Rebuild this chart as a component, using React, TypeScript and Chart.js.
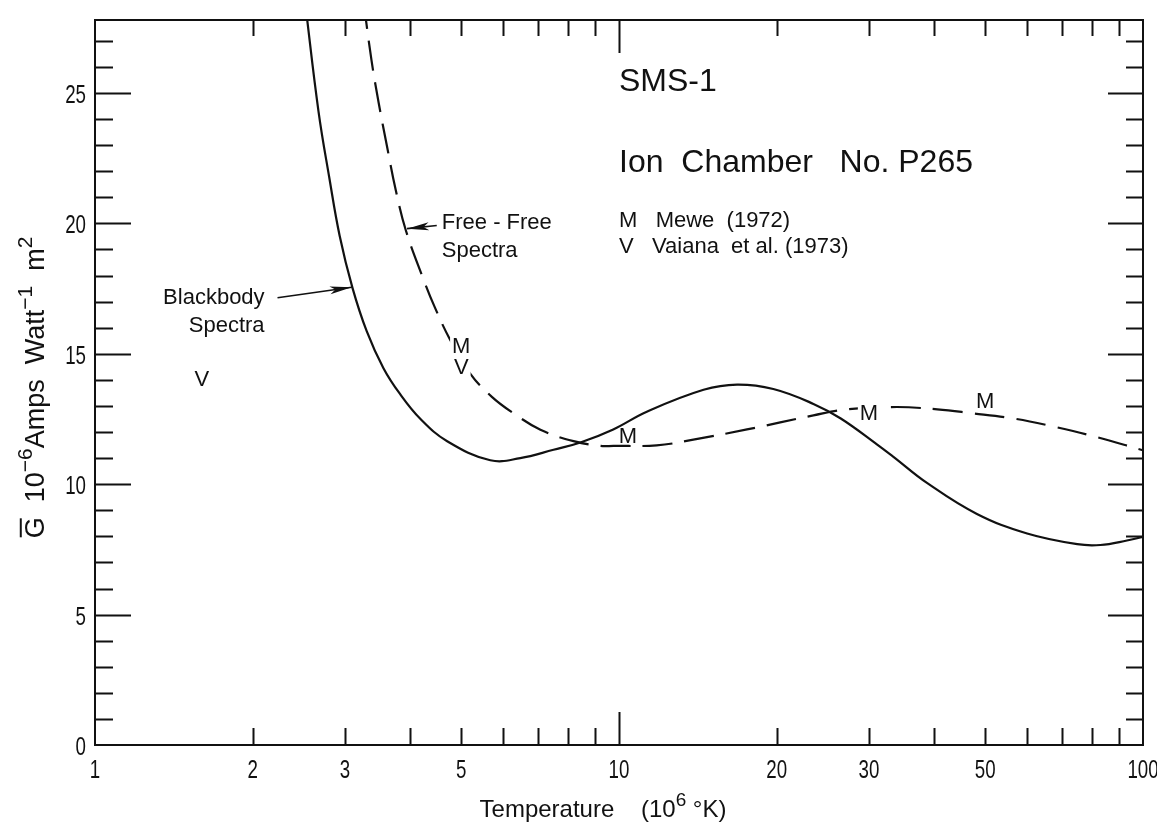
import React, { useEffect, useRef } from "react";
import { Chart, registerables } from "chart.js";

Chart.register(...registerables);

// ---- data ----
const blackbodyT = [2.52, 2.67, 2.8, 2.93, 3.1, 3.3, 3.55, 3.82, 4.18, 4.7, 5.68, 6.48, 7.5, 8.44, 9.75, 11.3, 14.5, 16.8, 19.7, 23.5, 26.5, 31.1, 33.4, 38.7, 48.2, 60.1, 74.9, 82.9, 93.2, 100];
const blackbodyG = [28.4, 24.3, 21.75, 19.53, 17.53, 15.87, 14.46, 13.46, 12.5, 11.65, 10.92, 11.0, 11.32, 11.6, 12.1, 12.78, 13.62, 13.82, 13.65, 13.08, 12.52, 11.52, 11.05, 10.05, 8.86, 8.11, 7.7, 7.67, 7.84, 7.98];

const freeFreeT = [3.25, 3.37, 3.48, 3.61, 3.75, 3.92, 4.22, 4.45, 4.75, 5.2, 5.72, 6.29, 7.08, 8.19, 9.21, 9.76, 11.8, 13.7, 17.55, 23.5, 27.2, 33.9, 40.5, 46.8, 56.6, 67.5, 80.5, 100];
const freeFreeG = [28.6, 26.26, 24.6, 22.93, 21.27, 19.73, 17.94, 16.79, 15.58, 14.24, 13.35, 12.72, 12.09, 11.65, 11.47, 11.47, 11.49, 11.69, 12.1, 12.64, 12.87, 12.96, 12.87, 12.73, 12.52, 12.21, 11.84, 11.3];

const xLabelValues = [1, 2, 3, 5, 10, 20, 30, 50, 100];
const xTickValues = [2, 3, 4, 5, 6, 7, 8, 9, 10, 20, 30, 40, 50, 60, 70, 80, 90];
const xMajorTickValues = [10];
const yLabelValues = [0, 5, 10, 15, 20, 25];
const yTickValues = [1, 2, 3, 4, 5, 6, 7, 8, 9, 10, 11, 12, 13, 14, 15, 16, 17, 18, 19, 20, 21, 22, 23, 24, 25, 26, 27];
const yMajorTickValues = [5, 10, 15, 20, 25];

// point labels (M = Mewe, V = Vaiana et al.)
const markerText = ["M", "V", "V", "M", "M", "M"];
const markerT = [5, 5, 1.6, 10.4, 30, 50];
const markerG = [15.25, 14.45, 14.0, 11.8, 12.7, 13.15];
const markerMask = [true, true, false, false, true, true];

// notes in the upper right
const noteText = ["SMS-1", "Ion  Chamber   No. P265", "M   Mewe  (1972)", "V   Vaiana  et al. (1973)"];
const noteT = [10, 10, 10, 10];
const noteG = [25.4, 22.3, 20.1, 19.1];
const noteSize = [32, 32, 22, 22];

// curve captions with arrows
const captionLine1 = ["Blackbody", "Free - Free"];
const captionLine2 = ["Spectra", "Spectra"];
const captionT = [2.107, 4.59];
const captionG = [17.15, 20.03];
const captionAlign = ["right", "left"];
const arrowFromT = [2.23, 4.49];
const arrowFromG = [17.15, 19.92];
const arrowToT = [3.09, 3.94];
const arrowToG = [17.55, 19.8];

const INK = "#111";
const TEXT_FONT = "'Liberation Sans', Arial, sans-serif";

function drawPieces(ctx: CanvasRenderingContext2D, pieces: any[], x0: number, size: number, supSize: number) {
  let x = x0;
  for (const p of pieces) {
    if (p.sup) {
      ctx.font = `${supSize}px ${TEXT_FONT}`;
      ctx.fillText(p.t, x, -size * 0.45);
    } else {
      ctx.font = `${size}px ${TEXT_FONT}`;
      ctx.fillText(p.t, x, 0);
    }
    const w = ctx.measureText(p.t).width;
    if (p.bar) {
      ctx.save();
      ctx.lineWidth = 2;
      ctx.beginPath();
      ctx.moveTo(x + 1, -size * 0.86);
      ctx.lineTo(x + w - 1, -size * 0.86);
      ctx.stroke();
      ctx.restore();
    }
    x += w;
  }
  return x - x0;
}

function measurePieces(ctx: CanvasRenderingContext2D, pieces: any[], size: number, supSize: number) {
  let w = 0;
  for (const p of pieces) {
    ctx.font = `${p.sup ? supSize : size}px ${TEXT_FONT}`;
    w += ctx.measureText(p.t).width;
  }
  return w;
}

const decorPlugin = {
  id: "decor",
  afterDatasetsDraw(chart: any) {
    const { ctx, chartArea: a, scales } = chart;
    const xs = scales.x;
    const ys = scales.y;
    ctx.save();
    ctx.strokeStyle = INK;
    ctx.fillStyle = INK;

    // frame
    ctx.lineWidth = 2;
    ctx.beginPath();
    ctx.rect(a.left, a.top, a.right - a.left, a.bottom - a.top);
    ctx.stroke();

    // inward ticks on all four sides
    ctx.lineWidth = 2;
    ctx.beginPath();
    for (const v of xTickValues) {
      const px = Math.round(xs.getPixelForValue(v)) + 0.5;
      const major = xMajorTickValues.includes(v);
      const lb = major ? 33 : 17;
      const lt = major ? 33 : 16;
      ctx.moveTo(px, a.bottom);
      ctx.lineTo(px, a.bottom - lb);
      ctx.moveTo(px, a.top);
      ctx.lineTo(px, a.top + lt);
    }
    for (const v of yTickValues) {
      const py = Math.round(ys.getPixelForValue(v)) + 0.5;
      const major = yMajorTickValues.includes(v);
      ctx.moveTo(a.left, py);
      ctx.lineTo(a.left + (major ? 36 : 18), py);
      ctx.moveTo(a.right, py);
      ctx.lineTo(a.right - (major ? 35 : 17), py);
    }
    ctx.stroke();

    // tick labels (narrow lettering)
    ctx.font = `26px ${TEXT_FONT}`;
    ctx.textBaseline = "alphabetic";
    for (const v of xLabelValues) {
      const px = xs.getPixelForValue(v);
      ctx.save();
      ctx.translate(px, a.bottom + 33);
      ctx.scale(0.72, 1);
      ctx.textAlign = "center";
      ctx.fillText(String(v), 0, 0);
      ctx.restore();
    }
    for (const v of yLabelValues) {
      const py = ys.getPixelForValue(v);
      ctx.save();
      ctx.translate(a.left - 9, py + 10);
      ctx.scale(0.72, 1);
      ctx.textAlign = "right";
      ctx.fillText(String(v), 0, 0);
      ctx.restore();
    }

    // point labels
    ctx.textAlign = "center";
    ctx.textBaseline = "middle";
    ctx.font = `22px ${TEXT_FONT}`;
    markerText.forEach((t, i) => {
      const px = xs.getPixelForValue(markerT[i]);
      const py = ys.getPixelForValue(markerG[i]);
      if (markerMask[i]) {
        const w = ctx.measureText(t).width;
        ctx.fillStyle = "#fff";
        ctx.fillRect(px - w / 2 - 2, py - 10, w + 4, 20);
        ctx.fillStyle = INK;
      }
      ctx.fillText(t, px, py);
    });

    // notes
    ctx.textAlign = "left";
    noteText.forEach((t, i) => {
      ctx.font = `${noteSize[i]}px ${TEXT_FONT}`;
      ctx.fillText(t, xs.getPixelForValue(noteT[i]), ys.getPixelForValue(noteG[i]));
    });

    // captions + arrows
    ctx.font = `22px ${TEXT_FONT}`;
    captionLine1.forEach((t, i) => {
      const px = xs.getPixelForValue(captionT[i]);
      const py = ys.getPixelForValue(captionG[i]);
      ctx.textAlign = captionAlign[i] as CanvasTextAlign;
      ctx.fillText(t, px, py);
      ctx.fillText(captionLine2[i], px, py + 28);

      const x1 = xs.getPixelForValue(arrowFromT[i]);
      const y1 = ys.getPixelForValue(arrowFromG[i]);
      const x2 = xs.getPixelForValue(arrowToT[i]);
      const y2 = ys.getPixelForValue(arrowToG[i]);
      const ang = Math.atan2(y2 - y1, x2 - x1);
      ctx.lineWidth = 1.6;
      ctx.beginPath();
      ctx.moveTo(x1, y1);
      ctx.lineTo(x2, y2);
      ctx.stroke();
      const L = 22;
      const W = 4;
      ctx.beginPath();
      ctx.moveTo(x2, y2);
      ctx.lineTo(x2 - L * Math.cos(ang) + W * Math.sin(ang), y2 - L * Math.sin(ang) - W * Math.cos(ang));
      ctx.lineTo(x2 - L * 0.75 * Math.cos(ang), y2 - L * 0.75 * Math.sin(ang));
      ctx.lineTo(x2 - L * Math.cos(ang) - W * Math.sin(ang), y2 - L * Math.sin(ang) + W * Math.cos(ang));
      ctx.closePath();
      ctx.fill();
    });

    // x axis title
    ctx.textAlign = "left";
    ctx.textBaseline = "alphabetic";
    const xPieces = [{ t: "Temperature    (10" }, { t: "6", sup: true }, { t: " °K)" }];
    const xw = measurePieces(ctx, xPieces, 24, 19);
    ctx.save();
    ctx.translate((a.left + a.right) / 2 - 16 - xw / 2, a.bottom + 72);
    drawPieces(ctx, xPieces, 0, 24, 19);
    ctx.restore();

    // y axis title (rotated)
    const yPieces = [
      { t: "G", bar: true },
      { t: "  10" },
      { t: "−6", sup: true },
      { t: "Amps  Watt" },
      { t: "−1", sup: true },
      { t: "  m" },
      { t: "2", sup: true },
    ];
    const yw = measurePieces(ctx, yPieces, 27, 21);
    ctx.save();
    ctx.translate(44, (a.top + a.bottom) / 2 + 5);
    ctx.rotate(-Math.PI / 2);
    drawPieces(ctx, yPieces, -yw / 2, 27, 21);
    ctx.restore();

    ctx.restore();
  },
};

export default function App() {
  const ref = useRef<HTMLCanvasElement | null>(null);

  useEffect(() => {
    if (!ref.current) return;
    const chart = new Chart(ref.current, {
      type: "line",
      data: {
        datasets: [
          {
            label: "Blackbody Spectra",
            data: blackbodyT.map((t, i) => ({ x: t, y: blackbodyG[i] })),
            borderColor: INK,
            borderWidth: 2.2,
            pointRadius: 0,
            tension: 0.4,
            fill: false,
          },
          {
            label: "Free-Free Spectra",
            data: freeFreeT.map((t, i) => ({ x: t, y: freeFreeG[i] })),
            borderColor: INK,
            borderWidth: 2.2,
            borderDash: [30, 12],
            pointRadius: 0,
            tension: 0.4,
            fill: false,
          },
        ],
      },
      options: {
        responsive: false,
        animation: false,
        layout: { padding: { top: 20, right: 14, left: 0, bottom: 0 } },
        plugins: {
          legend: { display: false },
          tooltip: { enabled: false },
          title: { display: false },
        },
        scales: {
          x: {
            type: "logarithmic",
            min: 1,
            max: 100,
            position: "bottom",
            grid: { display: false, drawTicks: false },
            border: { display: false },
            title: { display: false },
            afterBuildTicks: (s: any) => {
              s.ticks = xLabelValues.map((v) => ({ value: v }));
            },
            afterFit: (s: any) => {
              s.height = 77;
              s.paddingLeft = 0;
              s.paddingRight = 0;
            },
            ticks: { display: false, autoSkip: false, maxRotation: 0 },
          },
          y: {
            type: "linear",
            min: 0,
            max: 27.8,
            grid: { display: false, drawTicks: false },
            border: { display: false },
            title: { display: false },
            afterBuildTicks: (s: any) => {
              s.ticks = yLabelValues.map((v) => ({ value: v }));
            },
            afterFit: (s: any) => {
              s.width = 95;
              s.paddingTop = 0;
              s.paddingBottom = 0;
            },
            ticks: { display: false },
          },
        },
      },
      plugins: [decorPlugin],
    } as any);
    return () => chart.destroy();
  }, []);

  return (
    <div style={{ position: "absolute", left: 0, top: 0, width: 1157, height: 822, background: "#fff" }}>
      <canvas ref={ref} width={1157} height={822} style={{ display: "block" }} />
    </div>
  );
}
